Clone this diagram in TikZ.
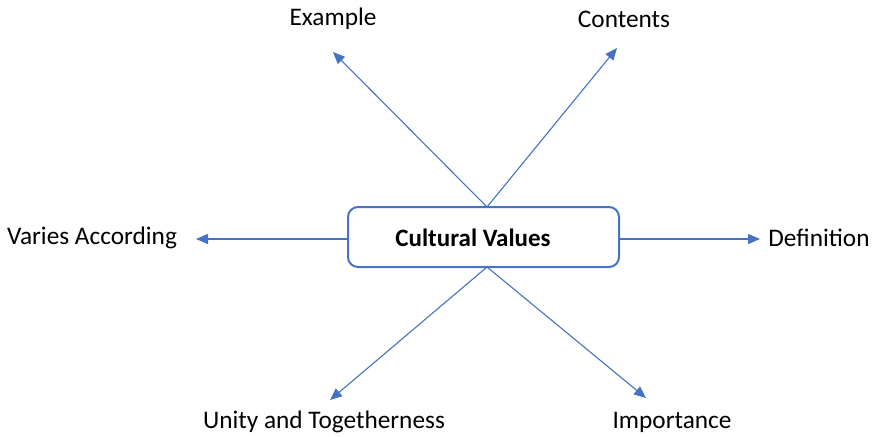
\documentclass[tikz,border=0pt]{standalone}
\usepackage{fontspec}
\setmainfont{Carlito}
\usetikzlibrary{arrows.meta,calc}
\definecolor{obl}{RGB}{68,114,196}
\begin{document}
\begin{tikzpicture}[x=1pt,y=-1pt,
  lbl/.style={font=\fontsize{25.3}{30}\selectfont, inner sep=0pt, anchor=center},
  conn/.style={draw=obl, line width=1.1pt, -{Triangle[length=12pt,width=10pt]}},
  mainbox/.style={draw=obl, line width=2pt, rounded corners=10pt, minimum width=271pt, minimum height=60pt, inner sep=0pt}]
\useasboundingbox (0,0) rectangle (874,436);
\node[mainbox] (box) at (483.5,237) {};
\node[font=\fontsize{25}{30}\selectfont\bfseries, inner sep=0pt] (title) at (473,238) {Cultural Values};
\node[lbl] (ex) at (333,19) {Example};
\node[lbl] (co) at (624,19) {Contents};
\node[lbl] (va) at (92,238) {Varies According};
\node[lbl] (de) at (819,238) {Definition};
\node[lbl] (un) at (324,422) {Unity and Togetherness};
\node[lbl] (im) at (672,422) {Importance};
\coordinate (top) at (487,207);
\coordinate (bot) at (487,267);
\coordinate (lft) at (348,239);
\coordinate (rgt) at (619,239);
\coordinate (tex) at (333,52);
\coordinate (tco) at (617,48);
\coordinate (tva) at (196,239);
\coordinate (tde) at (760,239);
\coordinate (tun) at (330,400);
\coordinate (tim) at (646,398);
\draw[conn] (top) -- (tex);
\draw[conn] (top) -- (tco);
\draw[conn] (lft) -- (tva);
\draw[conn] (rgt) -- (tde);
\draw[conn] (bot) -- (tun);
\draw[conn] (bot) -- (tim);
\end{tikzpicture}
\end{document}
